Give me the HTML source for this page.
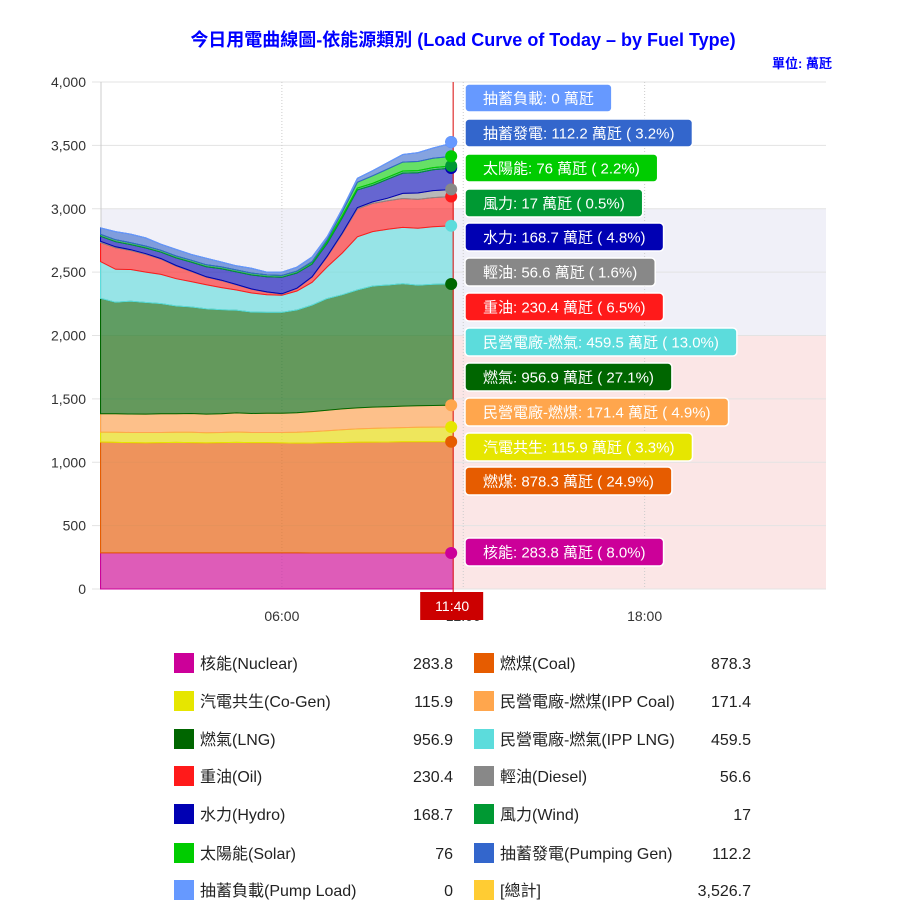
<!DOCTYPE html>
<html><head><meta charset="utf-8">
<style>
body{margin:0;background:#fff;width:900px;height:923px;overflow:hidden;font-family:"Liberation Sans","Noto Sans CJK TC",sans-serif;}
svg{position:absolute;left:0;top:0}
text{font-family:"Liberation Sans","Noto Sans CJK TC",sans-serif;}
</style></head>
<body>
<svg id="chart" width="900" height="923">
<text x="463" y="46" text-anchor="middle" font-size="18" font-weight="bold" fill="#0000ff">今日用電曲線圖-依能源類別 (Load Curve of Today – by Fuel Type)</text>
<text x="832" y="68" text-anchor="end" font-size="13" font-weight="bold" fill="#0000ff">單位: 萬瓩</text>
<g id="bands"></g><g id="grid"></g><g id="areas"></g><g id="overlay"></g><g id="legend"></g>
</svg>
<script>
const times=[0,0.5,1,1.5,2,2.5,3,3.5,4,4.5,5,5.5,6,6.5,7,7.5,8,8.5,9,9.5,10,10.5,11,11.5,11.667];
const nuclear=[285,285,285,285,285,285,285,285,285,285,285,285,285,285,284,284,284,284,284,284,284,284,284,284,283.8];
const coal=[875,872,870,868,870,872,870,868,870,872,870,870,868,866,868,870,872,874,875,876,877,878,878,878,878.3];
const cogen=[78,80,80,82,80,80,82,80,80,82,80,80,82,85,90,95,100,105,108,110,112,114,115,116,115.9];
const ippCoal=[145,145,146,145,147,146,148,147,148,150,150,152,152,155,158,162,165,166,168,168,170,170,171,171,171.4];
const lng=[910,880,890,880,870,850,840,830,820,810,800,795,795,810,840,880,900,930,955,960,965,950,955,957,956.9];
const ippLng=[290,260,250,240,230,215,200,190,175,160,150,140,135,150,180,250,330,420,430,440,445,450,455,458,459.5];
const oil=[150,170,150,140,120,100,80,60,55,40,30,20,10,20,40,80,150,220,222,225,228,228,230,230,230.4];
const diesel=[10,8,6,5,5,4,4,3,3,3,2,2,2,2,3,5,8,10,12,20,40,50,55,56,56.6];
const hydro=[40,40,40,45,50,60,70,80,90,100,110,120,130,120,100,100,120,140,130,150,160,160,165,168,168.7];
const wind=[15,15,15,15,15,15,15,15,15,15,15,14,14,14,15,15,15,15,16,16,17,17,17,17,17];
const solar=[0,0,0,0,0,0,0,0,0,0,0,0,0,1,5,15,30,45,60,65,70,72,74,75,76];
const pumpGen=[52,65,68,65,48,53,46,52,39,33,38,22,27,32,37,24,26,31,40,50,60,70,80,100,112.2];
const pumpLoad=[0,0,0,0,0,0,0,0,0,0,0,0,0,0,0,0,0,0,0,0,0,0,0,0,0];
const seriesNames=["核能(Nuclear)","燃煤(Coal)","汽電共生(Co-Gen)","民營電廠-燃煤(IPP Coal)","燃氣(LNG)","民營電廠-燃氣(IPP LNG)","重油(Oil)","輕油(Diesel)","水力(Hydro)","風力(Wind)","太陽能(Solar)","抽蓄發電(Pumping Gen)","抽蓄負載(Pump Load)"];
const shortNames=["核能","燃煤","汽電共生","民營電廠-燃煤","燃氣","民營電廠-燃氣","重油","輕油","水力","風力","太陽能","抽蓄發電","抽蓄負載"];
const slugs=["nuclear","coal","cogen","ipp-coal","lng","ipp-lng","oil","diesel","hydro","wind","solar","pumping-gen","pump-load"];
const colors=["#cc0099","#e65c00","#e6e600","#ffa64d","#006600","#5cdcdc","#ff1a1a","#888888","#0000b3","#009933","#00cc00","#3366cc","#6699ff"];
const series=[nuclear,coal,cogen,ippCoal,lng,ippLng,oil,diesel,hydro,wind,solar,pumpGen,pumpLoad];
const yTicks=[0,500,1000,1500,2000,2500,3000,3500,4000];
const xTicks=[6,12,18];
const xTickLabels=["06:00","12:00","18:00"];
const curTime=11.667, curLabel="11:40";

const NS="http://www.w3.org/2000/svg";
const X0=100.5,X1=826,Y0=589,Y1=82,YMAX=4000;
const xs=t=>X0+t/24*(X1-X0);
const ys=v=>Y0-v/YMAX*(Y0-Y1);
function mk(parent,tag,attrs,txt){const e=document.createElementNS(NS,tag);for(const k in attrs)e.setAttribute(k,attrs[k]);if(txt!==undefined)e.textContent=txt;document.getElementById(parent).appendChild(e);return e;}

// bands
let b=mk("bands","rect",{x:101,y:ys(3000),width:X1-101,height:ys(2000)-ys(3000),fill:"#f0f0f8"});


b=mk("bands","rect",{x:101,y:ys(2000),width:X1-101,height:ys(0)-ys(2000),fill:"#fbe6e6"});



// grid
yTicks.forEach(v=>{
  const l=mk("grid","line",{x1:92,x2:X1,y1:ys(v),y2:ys(v),stroke:"#e3e3e3","stroke-width":1});
  
  
  const t=mk("grid","text",{x:86,y:ys(v)+5,"text-anchor":"end","font-size":14,fill:"#333"},v.toLocaleString("en-US"));
  
  
});
xTicks.forEach((h,i)=>{
  const l=mk("grid","line",{x1:xs(h),x2:xs(h),y1:Y1,y2:Y0,stroke:"#cccccc","stroke-dasharray":"1,2"});
  
  
  const t=mk("grid","text",{x:xs(h),y:621,"text-anchor":"middle","font-size":14,fill:"#333"},xTickLabels[i]);
  
  
});
let ax=mk("grid","line",{x1:101,x2:101,y1:Y1,y2:Y0,stroke:"#cccccc"});



// stacked areas
let base=times.map(()=>0);
const tops=[];
series.forEach((s,si)=>{
  const top=s.map((v,i)=>base[i]+v);
  tops.push(top);
  let d="M"+times.map((t,i)=>xs(t).toFixed(1)+","+ys(top[i]).toFixed(1)).join("L");
  for(let i=times.length-1;i>=0;i--)d+="L"+xs(times[i]).toFixed(1)+","+ys(base[i]).toFixed(1);
  d+="Z";
  const p=mk("areas","path",{d:d,fill:colors[si],"fill-opacity":0.6,stroke:colors[si],"stroke-width":1});
  
  
  base=top;
});

// current time line
const cx=xs(curTime);
let cl=mk("overlay","line",{x1:cx,x2:cx,y1:Y1,y2:Y0+3,stroke:"#e03030","stroke-width":1.2});


let cr=mk("overlay","rect",{x:cx-33,y:592,width:63,height:28,fill:"#cc0000"});


let ct=mk("overlay","text",{x:cx-1,y:611,"text-anchor":"middle","font-size":14,fill:"#fff"},curLabel);



// markers & labels
const last=times.length-1;
const total=series.reduce((a,s)=>a+s[last],0);
const labelY=[552,481,447,412,377,342,307,272,237,203,168,133,98];
series.forEach((s,si)=>{
  const m=mk("overlay","circle",{cx:cx-2,cy:ys(tops[si][last]),r:6,fill:colors[si]});
  
  
});
series.forEach((s,si)=>{
  const v=s[last];
  let txt=shortNames[si]+": "+v+" 萬瓩";
  if(si<12)txt+=" ( "+(v/total*100).toFixed(1)+"%)";
  const ly=labelY[si];
  const g=mk("overlay","g",{});
  
  
  const t=document.createElementNS(NS,"text");
  t.setAttribute("x",483);t.setAttribute("y",ly+5.5);t.setAttribute("font-size",15);t.setAttribute("fill","#fff");
  t.textContent=txt;
  const r=document.createElementNS(NS,"rect");
  r.setAttribute("x",465);r.setAttribute("y",ly-14);r.setAttribute("height",28);r.setAttribute("rx",4);
  r.setAttribute("fill",colors[si]);r.setAttribute("stroke","#fff");r.setAttribute("stroke-width",1.5);
  g.appendChild(r);g.appendChild(t);
  const w=t.getComputedTextLength();
  r.setAttribute("width",w+36);
});

// legend
const legRows=[663,701,739,776,814,853,890];
const legItems=series.map((s,i)=>({name:seriesNames[i],val:String(s[last]),col:colors[i],slug:slugs[i]}));
legItems.push({name:"[總計]",val:total.toLocaleString("en-US",{minimumFractionDigits:1,maximumFractionDigits:1}),col:"#ffcc33",slug:"total"});
legItems.forEach((it,i)=>{
  const col=i%2, row=Math.floor(i/2);
  const x=col?474:174, vx=col?751:453, y=legRows[row];
  const g=mk("legend","g",{});
  
  
  const r=document.createElementNS(NS,"rect");
  r.setAttribute("x",x);r.setAttribute("y",y-10);r.setAttribute("width",20);r.setAttribute("height",20);r.setAttribute("fill",it.col);
  const t=document.createElementNS(NS,"text");
  t.setAttribute("x",x+26);t.setAttribute("y",y+6);t.setAttribute("font-size",16);t.setAttribute("fill","#222");t.textContent=it.name;
  const v=document.createElementNS(NS,"text");
  v.setAttribute("x",vx);v.setAttribute("y",y+6);v.setAttribute("font-size",16);v.setAttribute("fill","#222");v.setAttribute("text-anchor","end");v.textContent=it.val;
  g.appendChild(r);g.appendChild(t);g.appendChild(v);
});
</script>
</body></html>
